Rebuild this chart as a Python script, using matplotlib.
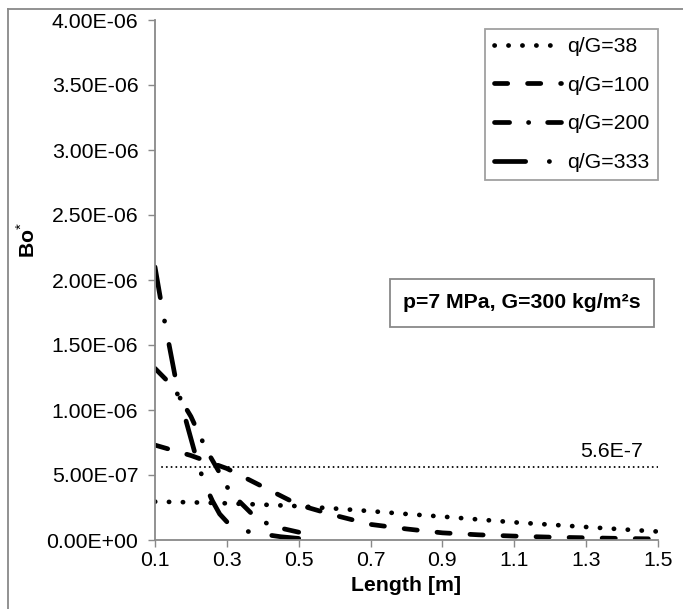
import matplotlib
matplotlib.use("Agg")
import matplotlib.pyplot as plt
from matplotlib.lines import Line2D
from matplotlib.patches import Rectangle

plt.rcParams['font.family'] = ['Liberation Sans', 'DejaVu Sans']
plt.rcParams['mathtext.fontset'] = 'custom'
plt.rcParams['mathtext.rm'] = 'Liberation Sans'
plt.rcParams['mathtext.bf'] = 'Liberation Sans:bold'

# ---- data ----
x38 = [0.1, 0.2, 0.3, 0.4, 0.5, 0.6, 0.7, 0.8, 0.9, 1.0, 1.1, 1.2, 1.3, 1.4, 1.5]
y38 = [2.95e-7, 2.90e-7, 2.82e-7, 2.72e-7, 2.60e-7, 2.42e-7, 2.22e-7, 2.00e-7,
       1.80e-7, 1.58e-7, 1.36e-7, 1.18e-7, 1.00e-7, 0.82e-7, 0.65e-7]

x100 = [0.1, 0.15, 0.2, 0.25, 0.3, 0.35, 0.4, 0.45, 0.5, 0.6, 0.7, 0.8, 0.9,
        1.0, 1.1, 1.2, 1.3, 1.4, 1.5]
y100 = [7.3e-7, 6.9e-7, 6.5e-7, 6.0e-7, 5.5e-7, 4.8e-7, 4.1e-7, 3.4e-7, 2.7e-7,
        1.9e-7, 1.2e-7, 0.85e-7, 0.55e-7, 0.40e-7, 0.30e-7, 0.22e-7, 0.17e-7,
        0.12e-7, 0.08e-7]

x200 = [0.1, 0.15, 0.2, 0.225, 0.25, 0.275, 0.3, 0.33, 0.37, 0.41, 0.46, 0.5]
y200 = [1.32e-6, 1.18e-6, 0.95e-6, 0.80e-6, 0.66e-6, 0.54e-6, 0.41e-6, 0.31e-6,
        0.20e-6, 0.13e-6, 0.085e-6, 0.06e-6]

x333 = [0.1, 0.12, 0.14, 0.16, 0.18, 0.2, 0.22, 0.24, 0.26, 0.28, 0.3, 0.35,
        0.4, 0.45, 0.5]
y333 = [2.1e-6, 1.78e-6, 1.49e-6, 1.20e-6, 0.98e-6, 0.78e-6, 0.58e-6, 0.42e-6,
        0.30e-6, 0.20e-6, 0.14e-6, 0.07e-6, 0.045e-6, 0.025e-6, 0.012e-6]

ref_x = [0.12, 1.5]
ref_y = [5.6e-7, 5.6e-7]
ref_label = "5.6E-7"

labels = ["q/G=38", "q/G=100", "q/G=200", "q/G=333"]
xticks = [0.1, 0.3, 0.5, 0.7, 0.9, 1.1, 1.3, 1.5]
yticks = [0, 0.5e-6, 1.0e-6, 1.5e-6, 2.0e-6, 2.5e-6, 3.0e-6, 3.5e-6, 4.0e-6]
ytick_labels = ["0.00E+00", "5.00E-07", "1.00E-06", "1.50E-06", "2.00E-06",
                "2.50E-06", "3.00E-06", "3.50E-06", "4.00E-06"]
annot = "p=7 MPa, G=300 kg/m\u00b2s"

FS = 15.3
GRAY = '#898989'

fig = plt.figure(figsize=(6.83, 6.09), dpi=100)
ax = fig.add_axes([155/683, 1 - 540/609, 503/683, 520/609])

lw = 3.4
common = dict(color='black', lw=lw, dash_capstyle='round', solid_capstyle='round')
ax.plot(x38, y38, label=labels[0], linestyle=(0, (0.05, 2.9)), **common)
ax.plot(x100, y100, label=labels[1], linestyle=(0, (2.8, 4.2)), **common)
ax.plot(x200, y200, label=labels[2], linestyle=(0, (3.2, 4.0, 0.05, 4.0)), **common)
ax.plot(x333, y333, label=labels[3], linestyle=(0, (6.6, 5.0, 0.05, 5.0)), **common)

ax.plot(ref_x, ref_y, color='black', lw=1.4, linestyle=(0, (0.05, 2.4)),
        dash_capstyle='round')
ax.text(1.372, 6.77e-7, ref_label, fontsize=FS, ha='center', va='center')

ax.set_xlim(0.1, 1.5)
ax.set_ylim(0, 4.0e-6)
ax.set_xticks(xticks)
ax.set_xticklabels([f"{v:.1f}" for v in xticks])
ax.set_yticks(yticks)
ax.set_yticklabels(ytick_labels)

for s in ['top', 'right']:
    ax.spines[s].set_visible(False)
for s in ['left', 'bottom']:
    ax.spines[s].set_color(GRAY)
    ax.spines[s].set_linewidth(1.3)
ax.tick_params(axis='both', direction='out', length=5, width=1.0, color=GRAY,
               labelsize=FS, labelcolor='black')
ax.tick_params(axis='y', pad=7)
ax.tick_params(axis='x', pad=3)

ax.set_xlabel("Length [m]", fontsize=FS, fontweight='bold', labelpad=4)
ax.set_ylabel(r"$\mathbf{Bo}^{*}$", fontsize=FS)
ax.yaxis.set_label_coords(-0.232, 0.577)

leg = ax.legend(loc='upper right', bbox_to_anchor=(1.0, 0.983), fontsize=FS,
                frameon=True, fancybox=False, edgecolor=GRAY, handlelength=3.15,
                handletextpad=0.3, labelspacing=0.92, borderpad=0.4,
                borderaxespad=0)
leg.get_frame().set_linewidth(1.3)

ax.add_patch(Rectangle((0.467, 0.4096), 0.525, 0.0923, transform=ax.transAxes,
                       facecolor='white', edgecolor=GRAY, lw=1.3, zorder=3))
ax.text(0.7296, 0.4558, annot, transform=ax.transAxes, fontsize=FS,
        fontweight='bold', ha='center', va='center', zorder=4)

# outer chart border (left and top visible)
fig.add_artist(Line2D([8/683, 8/683], [0, 1 - 9/609], color=GRAY, lw=1.3,
                      transform=fig.transFigure))
fig.add_artist(Line2D([8/683, 1], [1 - 9/609, 1 - 9/609], color=GRAY, lw=1.3,
                      transform=fig.transFigure))

fig.savefig("out.png", dpi=100)
